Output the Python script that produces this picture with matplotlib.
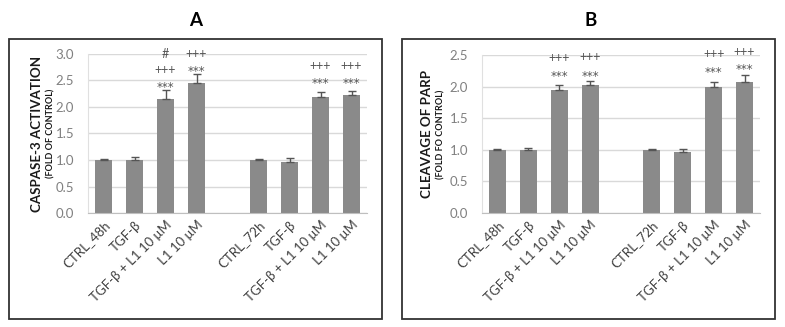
import matplotlib.pyplot as plt
import numpy as np
from matplotlib.patches import Rectangle

plt.rcParams['font.family'] = ['Lato', 'DejaVu Sans']

# categories (empty slot separates 48h and 72h groups)
labels = ["CTRL_48h", "TGF-β", "TGF-β + L1 10 μM", "L1 10 μM", "",
          "CTRL_72h", "TGF-β", "TGF-β + L1 10 μM", "L1 10 μM"]

casp_vals = [1.00, 1.00, 2.16, 2.46, np.nan, 1.00, 0.97, 2.19, 2.23]
casp_err = [0.01, 0.05, 0.16, 0.16, 0.0, 0.01, 0.06, 0.09, 0.07]
casp_marks = {2: ["***", "+++", "#"], 3: ["***", "+++"], 7: ["***", "+++"], 8: ["***", "+++"]}
casp_mark_y = {2: [2.43, 2.69, 3.00], 3: [2.74, 3.00], 7: [2.51, 2.78], 8: [2.51, 2.78]}

parp_vals = [1.00, 0.99, 1.94, 2.02, np.nan, 1.00, 0.97, 2.00, 2.08]
parp_err = [0.01, 0.04, 0.08, 0.07, 0.0, 0.01, 0.05, 0.08, 0.11]
parp_marks = {2: ["***", "+++"], 3: ["***", "+++"], 7: ["***", "+++"], 8: ["***", "+++"]}
parp_mark_y = {2: [2.22, 2.45], 3: [2.22, 2.47], 7: [2.28, 2.52], 8: [2.33, 2.55]}

W, H = 785, 327
fig = plt.figure(figsize=(W / 100, H / 100), dpi=100)

bar_color = "#8a8a8a"
grid_color = "#d9d9d9"


def px_axes(x0, y0, x1, y1):
    return fig.add_axes([x0 / W, 1 - y1 / H, (x1 - x0) / W, (y1 - y0) / H])


def draw_panel(ax, vals, err, marks, mark_y, ymax, ylab, ylab2, lab_x):
    x = np.arange(len(labels))
    v = np.array(vals)
    ax.bar(x, v, width=0.55, color=bar_color, zorder=2)
    e = np.array(err)
    ok = ~np.isnan(v)
    ax.errorbar(x[ok], v[ok], yerr=[np.zeros(ok.sum()), e[ok]], fmt="none",
                ecolor="#555555", elinewidth=1, capsize=3, capthick=1, zorder=3)
    for i, txts in marks.items():
        for t, yy in zip(txts, mark_y[i]):
            if t == "***":
                # asterisks sit high in the font: bigger and nudged down
                ax.annotate(t, (i, yy), xytext=(0, -2.5), textcoords="offset points",
                            ha="center", va="center", fontsize=8.5, family="DejaVu Sans",
                            color="#555555", zorder=4)
            else:
                ax.text(i, yy, t, ha="center", va="center", fontsize=9,
                        color="#555555", zorder=4)
    ax.set_xlim(-0.5, len(labels) - 0.5)
    ax.set_ylim(0, ymax)
    ax.set_yticks(np.arange(0, ymax + 0.01, 0.5))
    ax.set_yticklabels([f"{t:.1f}" for t in np.arange(0, ymax + 0.01, 0.5)])
    ax.yaxis.grid(True, color=grid_color, linewidth=1, zorder=0)
    ax.set_axisbelow(True)
    ax.set_xticks(x)
    ax.set_xticklabels(labels, rotation=45, ha="right", rotation_mode="anchor",
                       fontsize=9.5, color="#404040")
    ax.tick_params(axis="x", length=0, pad=4)
    ax.tick_params(axis="y", length=0, pad=10, labelsize=9.5, labelcolor="#808080")
    for s in ["top", "right"]:
        ax.spines[s].set_visible(False)
    ax.spines["left"].set_color("#e0e0e0")
    ax.spines["bottom"].set_color("#bfbfbf")
    ax.text(lab_x[0], 0.5, ylab, transform=ax.transAxes, rotation=90,
            ha="center", va="center", fontsize=9.6, fontweight="bold", color="#1a1a1a")
    ax.text(lab_x[1], 0.5, ylab2, transform=ax.transAxes, rotation=90,
            ha="center", va="center", fontsize=6.5, fontweight="bold", color="#1a1a1a")


axA = px_axes(88, 54, 367, 213)
draw_panel(axA, casp_vals, casp_err, casp_marks, casp_mark_y, 3.0,
           "CASPASE-3 ACTIVATION", "(FOLD OF CONTROL)",
           ((37 - 88) / 279, (51 - 88) / 279))

axB = px_axes(482, 55, 760, 213)
draw_panel(axB, parp_vals, parp_err, parp_marks, parp_mark_y, 2.5,
           "CLEAVAGE OF PARP", "(FOLD FO CONTROL)",
           ((427 - 482) / 278, (441 - 482) / 278))

# chart frames
for x0, x1 in [(9, 382), (402, 775)]:
    fig.patches.append(Rectangle((x0 / W, 1 - 319 / H), (x1 - x0) / W, (319 - 39) / H,
                                 transform=fig.transFigure, fill=False,
                                 edgecolor="#333333", linewidth=1.3))

fig.text(196 / W, 1 - 21 / H, "A", ha="center", va="center", fontsize=13.5, fontweight="bold")
fig.text(591 / W, 1 - 21 / H, "B", ha="center", va="center", fontsize=13.5, fontweight="bold")

fig.savefig("out.png", dpi=100)
